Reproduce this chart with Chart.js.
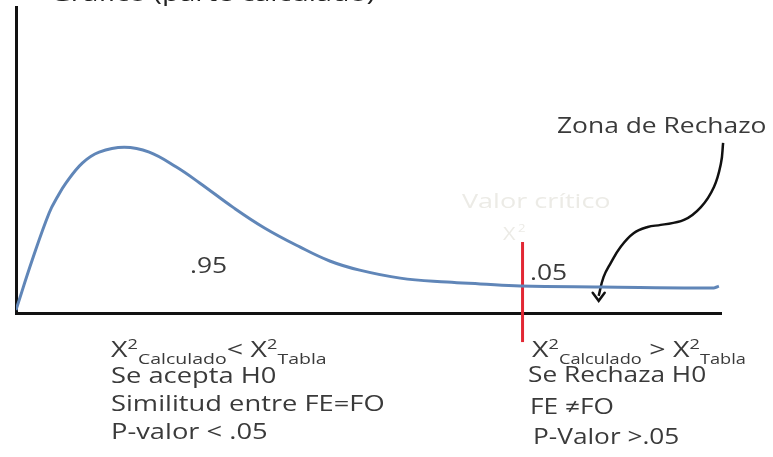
<!DOCTYPE html>
<html>
<head>
<meta charset="utf-8">
<script src="https://cdn.jsdelivr.net/npm/chart.js@4.4.1/dist/chart.umd.min.js"></script>
<style>
  html, body { margin: 0; padding: 0; background: #fff; }
  #grafica { width: 773px; height: 457px; }
</style>
</head>
<body>
<div id="grafica"><canvas id="myChart" width="773" height="457"></canvas></div>
<script>
// curva chi cuadrado, x = valor chi2, y = densidad relativa
var curva_x = [0, 0.46, 0.94, 1.19, 1.42, 1.88, 2.36, 3.07, 3.78, 4.55, 5.21, 6.15, 7.05, 8.05, 8.9, 9.75, 10.9, 12.23, 13.17, 14.31, 16.59, 19.8, 19.94]
var curva_y = [1, 17.3, 32.7, 38.2, 42.5, 49.0, 52.6, 54.2, 52.6, 47.7, 42.5, 34.6, 27.8, 21.6, 17.0, 14.0, 11.4, 10.1, 9.5, 8.8, 8.5, 8.2, 8.8]

// valor critico
var critico_x = [14.37, 14.37]
var critico_y = [-9.5, 23.2]

// flecha hacia la zona de rechazo
var flecha_x = [20.06, 20.0, 19.8, 19.43, 18.95, 18.29, 17.92, 17.52, 17.15, 16.87, 16.67, 16.53]
var flecha_y = [55.6, 49.0, 41.2, 34.6, 30.4, 28.8, 28.1, 26.1, 21.6, 16.3, 11.8, 5.6]

function puntos(xs, ys) {
    var p = []
    for (var i = 0; i < xs.length; i++) {
        p.push({ x: xs[i], y: ys[i] })
    }
    return p
}

var GRIS = '#3a3a3a'
var CLARO = '#ecebe6'

function texto(ctx, s, x, y, size, color, sx) {
    ctx.save()
    ctx.font = size + 'px "Open Sans"'
    var w = ctx.measureText(s).width * sx
    ctx.translate(x, y)
    ctx.scale(sx, 1)
    ctx.fillStyle = color
    ctx.textBaseline = 'alphabetic'
    ctx.fillText(s, 0, 0)
    ctx.restore()
    return x + w
}

// X2 calculado vs X2 tabla, con super y subindices
function comparacion(ctx, x, y, signo, sub) {
    var sx = 1.3
    x = texto(ctx, 'X', x, y, 22, GRIS, sx)
    x = texto(ctx, '2', x, y - 8, 14, GRIS, sx)
    x = texto(ctx, 'Calculado', x, y + 7, sub, GRIS, sx)
    x = texto(ctx, signo, x, y, 22, GRIS, sx)
    x = texto(ctx, 'X', x, y, 22, GRIS, sx)
    x = texto(ctx, '2', x, y - 8, 14, GRIS, sx)
    texto(ctx, 'Tabla', x, y + 7, sub, GRIS, sx)
}

var anotaciones = {
    id: 'anotaciones',
    afterDatasetsDraw: function (chart) {
        var ctx = chart.ctx

        // punta de la flecha
        var meta = chart.getDatasetMeta(2)
        var ult = meta.data[meta.data.length - 1]
        ctx.save()
        ctx.strokeStyle = '#111'
        ctx.lineWidth = 2.5
        ctx.lineCap = 'round'
        ctx.beginPath()
        ctx.moveTo(ult.x - 6, ult.y - 3)
        ctx.lineTo(ult.x, ult.y + 5)
        ctx.lineTo(ult.x + 6, ult.y - 3)
        ctx.stroke()
        ctx.restore()

        // titulo cortado arriba
        texto(ctx, 'Gráfico (parte calculado)', 50, 1, 22, '#222', 1.3)

        texto(ctx, 'Zona de Rechazo', 557, 133, 22, GRIS, 1.2)
        texto(ctx, '.95', 190, 273, 22, GRIS, 1.2)
        texto(ctx, '.05', 530, 280, 22, GRIS, 1.2)
        texto(ctx, 'Valor crítico', 462, 208, 20, CLARO, 1.35)
        texto(ctx, 'X', 503, 240, 18, CLARO, 1.2)
        texto(ctx, '2', 518, 232, 11, CLARO, 1.2)

        // bloque izquierdo
        comparacion(ctx, 111, 357, '< ', 15)
        texto(ctx, 'Se acepta H0', 111, 383, 21, GRIS, 1.3)
        texto(ctx, 'Similitud entre FE=FO', 111, 411, 21, GRIS, 1.3)
        texto(ctx, 'P-valor < .05', 111, 439, 21, GRIS, 1.3)

        // bloque derecho
        comparacion(ctx, 532, 357, ' > ', 14)
        texto(ctx, 'Se Rechaza H0', 528, 382, 21, GRIS, 1.25)
        texto(ctx, 'FE \u2260FO', 530, 414, 21, GRIS, 1.25)
        texto(ctx, 'P-Valor >.05', 533, 444, 21, GRIS, 1.25)
    }
}

var ctx = document.getElementById("myChart").getContext("2d");
new Chart(ctx, {
    type: "line",
    data: {
        datasets: [{
            data: puntos(curva_x, curva_y),
            borderColor: 'rgb(96,134,184)',
            borderWidth: 3,
            pointRadius: 0,
            tension: 0.4
        },
        {
            data: puntos(critico_x, critico_y),
            borderColor: 'rgb(226,40,52)',
            borderWidth: 3,
            pointRadius: 0,
            clip: false
        },
        {
            data: puntos(flecha_x, flecha_y),
            borderColor: '#111',
            borderWidth: 2.5,
            pointRadius: 0,
            tension: 0.4,
            clip: false
        }]
    },
    options: {
        responsive: false,
        animation: false,
        events: [],
        layout: { padding: { left: 16, right: 52, top: 7, bottom: 144 } },
        plugins: {
            legend: { display: false },
            tooltip: { enabled: false }
        },
        scales: {
            x: {
                type: 'linear', min: 0, max: 20,
                ticks: { display: false },
                grid: { display: false, drawTicks: false },
                border: { display: true, color: '#111', width: 3 }
            },
            y: {
                type: 'linear', min: 0, max: 100,
                ticks: { display: false },
                grid: { display: false, drawTicks: false },
                border: { display: true, color: '#111', width: 3 }
            }
        }
    },
    plugins: [anotaciones]
});
</script>
</body>
</html>
